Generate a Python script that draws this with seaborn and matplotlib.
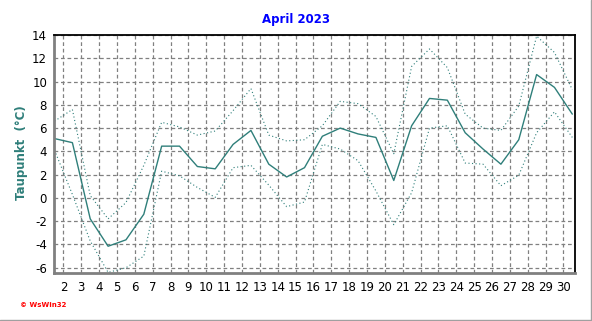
import numpy as np
import pandas as pd
import matplotlib
matplotlib.use("Agg")
import matplotlib.pyplot as plt
import seaborn as sns
from matplotlib.ticker import MultipleLocator, FixedLocator
from matplotlib.lines import Line2D

# ---- data ----
days = list(range(1, 31))
dew_mean = [5.1, 4.75, -1.8, -4.15, -3.6, -1.4, 4.45, 4.45, 2.7, 2.5,
            4.6, 5.8, 2.9, 1.8, 2.6, 5.3, 6.0, 5.5, 5.2, 1.5,
            6.2, 8.55, 8.4, 5.6, 4.2, 2.9, 5.0, 10.6, 9.5, 7.2]
dew_max = [6.6, 7.6, 0.2, -1.8, -0.4, 2.8, 6.5, 6.1, 5.4, 5.75,
           7.5, 9.4, 5.4, 4.9, 5.0, 6.2, 8.3, 8.1, 7.0, 3.8,
           11.3, 12.8, 11.2, 7.2, 6.0, 5.8, 7.9, 13.9, 12.5, 9.3]
dew_min = [4.1, 0.3, -3.7, -6.4, -6.0, -5.0, 2.3, 1.9, 0.9, 0.05,
           2.6, 2.8, 1.1, -0.75, -0.35, 4.6, 4.2, 3.2, 0.6, -2.3,
           0.45, 6.0, 6.2, 3.0, 2.9, 1.05, 1.95, 5.6, 7.4, 5.2]
x_ticks = list(range(2, 31))
y_ticks = list(range(-6, 15, 2))
title = "April 2023"
ylabel = "Taupunkt  (°C)"
credit = "© WsWin32"

teal = "#2F7F7A"
grid_c = "#808080"

sns.set_style("white")
plt.rcParams['font.family'] = ['DejaVu Sans']

df = pd.DataFrame({"pos": np.array(days) + 0.5, "mean": dew_mean,
                   "max": dew_max, "min": dew_min})

fig = plt.figure(figsize=(5.92, 3.21), dpi=100)
ax = fig.add_axes([54/592, 1-273/321, (575-54)/592, (273-35)/321])

sns.lineplot(data=df, x="pos", y="max", ax=ax, color=teal, lw=0.8,
             linestyle=(0, (1, 2.2)))
sns.lineplot(data=df, x="pos", y="min", ax=ax, color=teal, lw=0.8,
             linestyle=(0, (1, 2.2)))
sns.lineplot(data=df, x="pos", y="mean", ax=ax, color=teal, lw=1.0)

ax.set_xlim(1.47, 30.65)
ax.set_ylim(-6.45, 14)
ax.xaxis.set_major_locator(FixedLocator(x_ticks))
ax.xaxis.set_minor_locator(MultipleLocator(0.25))
ax.yaxis.set_major_locator(FixedLocator(y_ticks))
ax.yaxis.set_minor_locator(MultipleLocator(0.5))
ax.set_xticklabels([str(t) for t in x_ticks])
ax.set_yticklabels([str(t) for t in y_ticks])
ax.set_xlabel("")
ax.set_ylabel("")

ax.grid(True, which="major", color=grid_c, linestyle=(0, (3, 2.2)), lw=0.9)
ax.set_axisbelow(True)

for s in ("left", "bottom"):
    ax.spines[s].set_color("#808080")
    ax.spines[s].set_linewidth(2.0)
for s in ("top", "right"):
    ax.spines[s].set_color("black")
    ax.spines[s].set_linewidth(1.3)

ax.tick_params(axis="both", which="major", direction="out", length=3,
               width=0.8, color="#606060", labelsize=8.5, pad=2,
               labelcolor="black")
ax.tick_params(axis="both", which="minor", direction="out", length=2,
               width=0.7, color="#606060")
ax.tick_params(axis="x", which="major", pad=3)

fig.text(0.5, 1-20/321, title, ha="center", va="center", color="#0000FF",
         fontsize=8.5, fontweight="bold")
fig.text(22/592, 1-153/321, ylabel, ha="center", va="center",
         rotation=90, color="#2F7F7A", fontsize=8.5, fontweight="bold")
fig.text(20/592, 1-305/321, credit, ha="left", va="center", color="#FF0000",
         fontsize=5, fontweight="bold")

fig.add_artist(Line2D([590.5/592, 590.5/592], [0, 1], color="#A0A0A0", lw=1))
fig.add_artist(Line2D([0, 1], [1.5/321, 1.5/321], color="#A0A0A0", lw=1))

fig.savefig("out.png", dpi=100, facecolor="white")
